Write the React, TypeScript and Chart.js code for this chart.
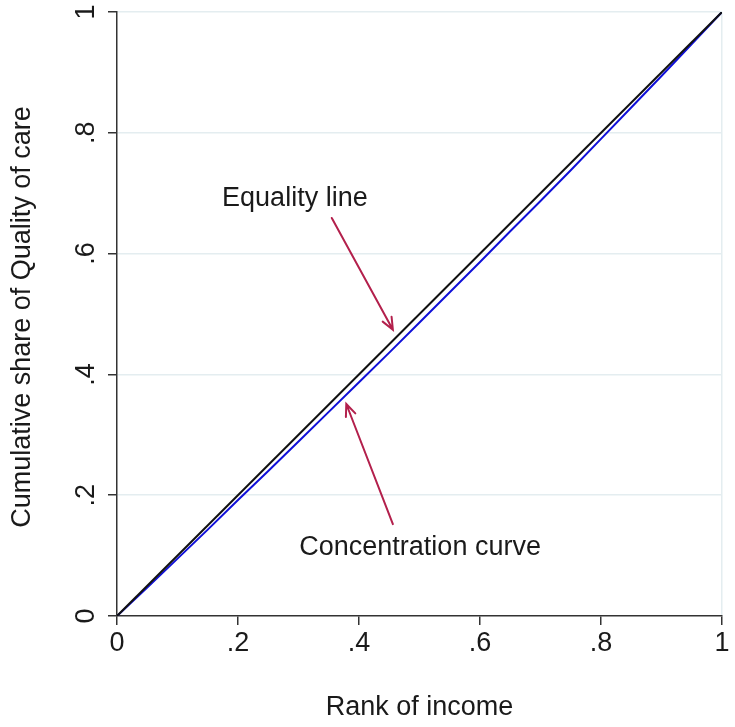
import { useEffect, useRef } from 'react';
import { Chart, registerables } from 'chart.js';

Chart.register(...registerables);

// ---- data ----
const equalityRank = [0, 1];
const equalityShare = [0, 1];

const concentrationRank = [0, 0.05, 0.1, 0.15, 0.2, 0.25, 0.3, 0.35, 0.4, 0.45, 0.5, 0.55, 0.6, 0.65, 0.7, 0.75, 0.8, 0.85, 0.9, 0.95, 1];
const concentrationShare = [0, 0.047, 0.095, 0.143, 0.192, 0.24, 0.289, 0.338, 0.387, 0.436, 0.486, 0.536, 0.586, 0.637, 0.687, 0.738, 0.79, 0.842, 0.894, 0.947, 1];

const xTickValues = [0, 0.2, 0.4, 0.6, 0.8, 1];
const xTickLabels = ['0', '.2', '.4', '.6', '.8', '1'];
const yTickValues = [0, 0.2, 0.4, 0.6, 0.8, 1];
const yTickLabels = ['0', '.2', '.4', '.6', '.8', '1'];

const xTitle = 'Rank of income';
const yTitle = 'Cumulative share of Quality of care';

const noteTexts = ['Equality line', 'Concentration curve'];
const noteAnchors = [[0.294, 0.679], [0.501, 0.101]];
const arrowStarts = [[0.355, 0.659], [0.456, 0.152]];
const arrowTips = [[0.456, 0.474], [0.379, 0.351]];

const FONT = '"Liberation Sans", Arial, Helvetica, sans-serif';
const FS = 27;
const TEXT = '#1a1a1a';
const AXIS = '#333333';
const GRID = '#e4edf0';
const ARROW = '#b3204c';

const overlayPlugin = {
  id: 'overlay',
  afterDraw(chart: any) {
    const ctx = chart.ctx;
    const xs = chart.scales.x;
    const ys = chart.scales.y;
    const area = chart.chartArea;
    ctx.save();
    ctx.fillStyle = TEXT;
    ctx.font = `${FS}px ${FONT}`;
    // y tick labels (rotated)
    yTickValues.forEach((v, i) => {
      const py = ys.getPixelForValue(v);
      ctx.save();
      ctx.translate(area.left - 23, py);
      ctx.rotate(-Math.PI / 2);
      ctx.textAlign = 'center';
      ctx.textBaseline = 'alphabetic';
      ctx.fillText(yTickLabels[i], 0, 0);
      ctx.restore();
    });
    // y title
    ctx.save();
    ctx.translate(30, (area.top + area.bottom) / 2 + 3);
    ctx.rotate(-Math.PI / 2);
    ctx.textAlign = 'center';
    ctx.textBaseline = 'alphabetic';
    ctx.fillText(yTitle, 0, 0);
    ctx.restore();

    // notes
    ctx.textAlign = 'center';
    ctx.textBaseline = 'alphabetic';
    noteTexts.forEach((t, i) => {
      ctx.fillText(t, xs.getPixelForValue(noteAnchors[i][0]), ys.getPixelForValue(noteAnchors[i][1]));
    });

    // arrows
    ctx.strokeStyle = ARROW;
    ctx.lineWidth = 2;
    ctx.lineCap = 'round';
    arrowStarts.forEach((s, i) => {
      const x1 = xs.getPixelForValue(s[0]);
      const y1 = ys.getPixelForValue(s[1]);
      const x2 = xs.getPixelForValue(arrowTips[i][0]);
      const y2 = ys.getPixelForValue(arrowTips[i][1]);
      const ang = Math.atan2(y2 - y1, x2 - x1);
      const len = 13;
      const spread = 0.4;
      ctx.beginPath();
      ctx.moveTo(x1, y1);
      ctx.lineTo(x2, y2);
      ctx.moveTo(x2 - len * Math.cos(ang - spread), y2 - len * Math.sin(ang - spread));
      ctx.lineTo(x2, y2);
      ctx.lineTo(x2 - len * Math.cos(ang + spread), y2 - len * Math.sin(ang + spread));
      ctx.stroke();
    });
    ctx.restore();
  },
};

export default function App() {
  const ref = useRef<HTMLCanvasElement | null>(null);
  useEffect(() => {
    if (!ref.current) return;
    const chart = new Chart(ref.current, {
      type: 'scatter',
      data: {
        datasets: [
          {
            label: 'Equality line',
            data: equalityRank.map((x, i) => ({ x, y: equalityShare[i] })),
            showLine: true,
            borderColor: '#111111',
            borderWidth: 2,
            pointRadius: 0,
          },
          {
            label: 'Concentration curve',
            data: concentrationRank.map((x, i) => ({ x, y: concentrationShare[i] })),
            showLine: true,
            borderColor: '#1010d8',
            borderWidth: 2,
            pointRadius: 0,
          },
        ],
      },
      options: {
        animation: false,
        responsive: true,
        maintainAspectRatio: false,
        layout: { padding: { left: 0, top: 12, right: 13, bottom: 0 } },
        plugins: { legend: { display: false }, tooltip: { enabled: false } },
        scales: {
          x: {
            type: 'linear',
            min: 0,
            max: 1,
            afterBuildTicks: (s: any) => {
              s.ticks = xTickValues.map((v) => ({ value: v }));
            },
            afterFit: (s: any) => {
              s.height = 111;
            },
            ticks: {
              autoSkip: false,
              maxRotation: 0,
              padding: 2,
              color: TEXT,
              font: { family: FONT, size: FS },
              callback: (_v: any, i: number) => xTickLabels[i],
            },
            grid: {
              color: (c: any) => (c.tick && c.tick.value === 1 ? GRID : 'rgba(0,0,0,0)'),
              lineWidth: 1.5,
              tickColor: AXIS,
              tickLength: 9,
              tickWidth: 1.5,
            },
            border: { display: true, color: AXIS, width: 1.5 },
            title: {
              display: true,
              text: xTitle,
              color: TEXT,
              font: { family: FONT, size: FS },
              padding: { top: 0, bottom: 3 },
            },
          },
          y: {
            type: 'linear',
            min: 0,
            max: 1,
            afterBuildTicks: (s: any) => {
              s.ticks = yTickValues.map((v) => ({ value: v }));
            },
            afterFit: (s: any) => {
              s.width = 117;
            },
            ticks: { display: false },
            grid: {
              color: (c: any) => (c.tick && c.tick.value === 0 ? 'rgba(0,0,0,0)' : GRID),
              lineWidth: 1.5,
              tickColor: AXIS,
              tickLength: 9,
              tickWidth: 1.5,
            },
            border: { display: true, color: AXIS, width: 1.5 },
          },
        },
      },
      plugins: [overlayPlugin],
    });
    return () => chart.destroy();
  }, []);
  return (
    <div style={{ position: 'absolute', left: 0, top: 0, width: 735, height: 727, background: '#fff' }}>
      <canvas ref={ref} />
    </div>
  );
}
